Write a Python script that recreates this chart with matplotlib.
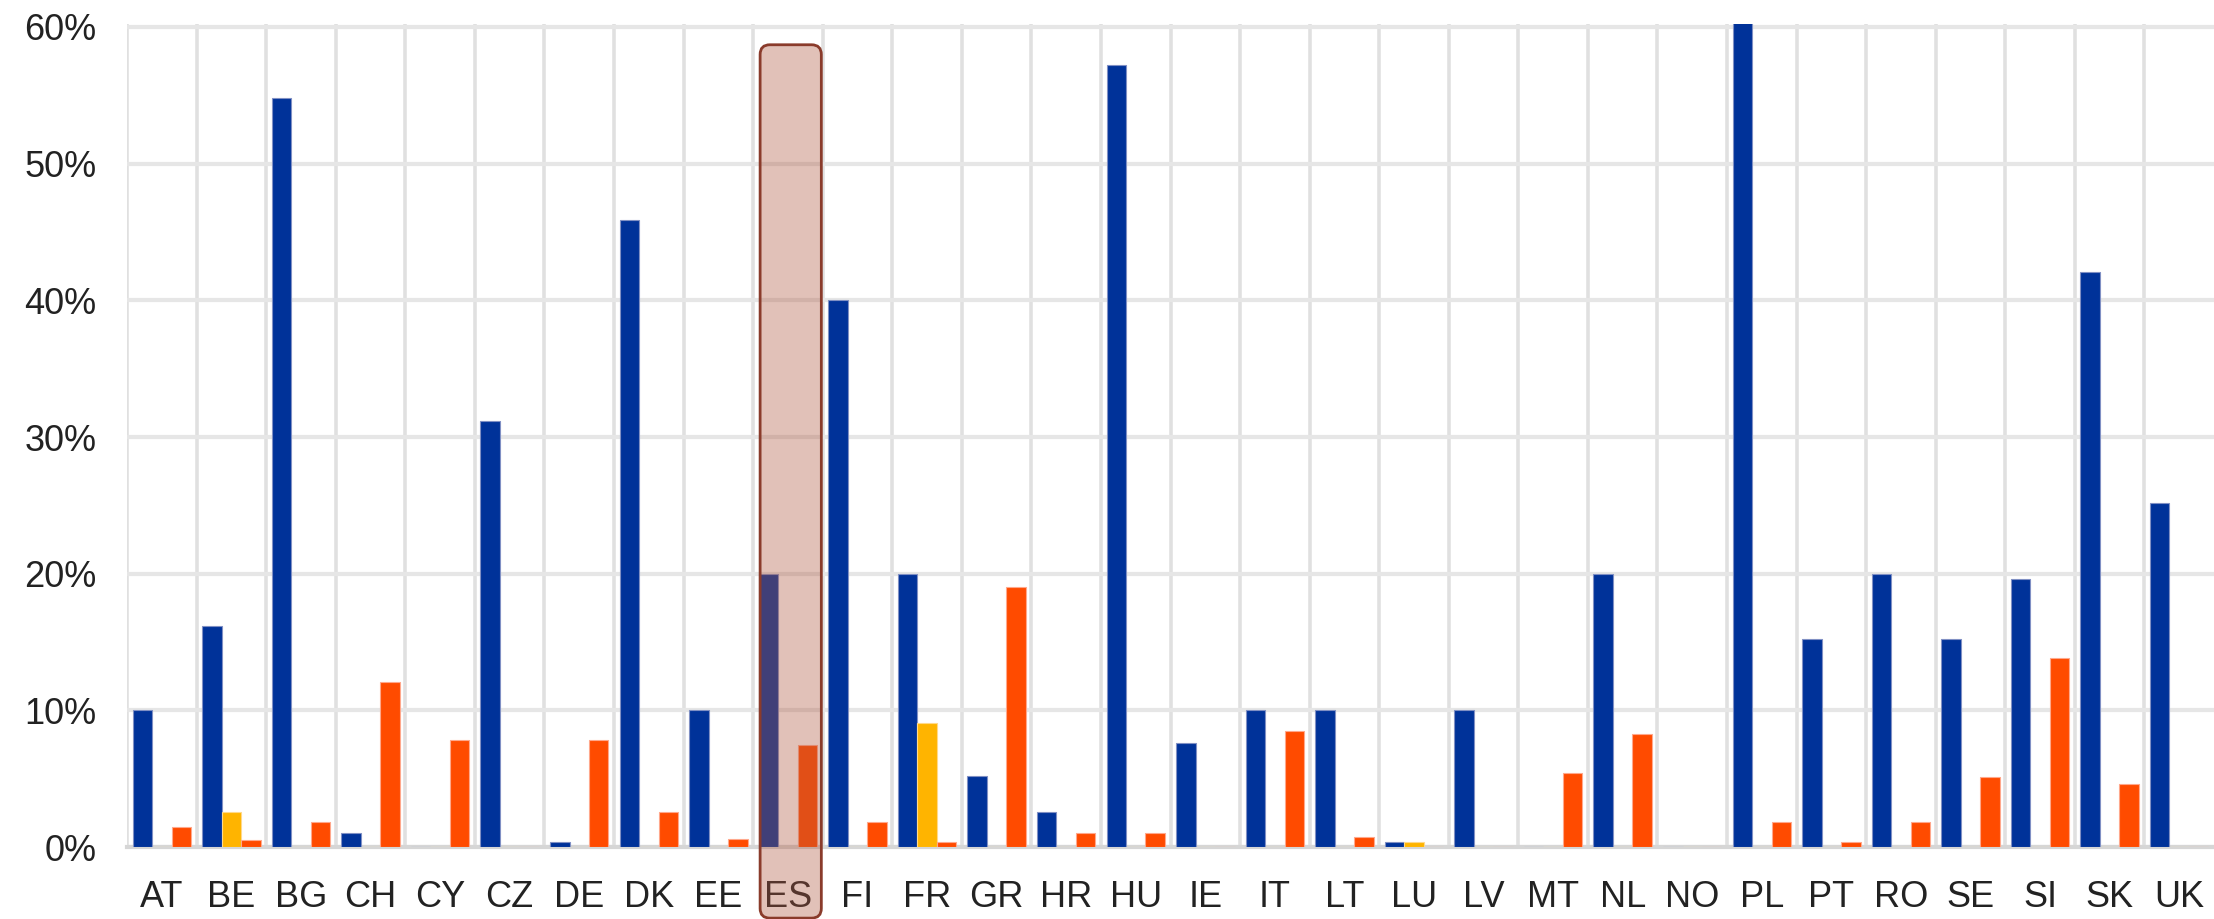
import numpy as np
import matplotlib
matplotlib.use("Agg")
import matplotlib.pyplot as plt
from matplotlib.patches import FancyBboxPatch

plt.rcParams['font.family'] = ['Liberation Sans', 'DejaVu Sans']

# datos (en %)
countries = ["AT", "BE", "BG", "CH", "CY", "CZ", "DE", "DK", "EE", "ES",
             "FI", "FR", "GR", "HR", "HU", "IE", "IT", "LT", "LU", "LV",
             "MT", "NL", "NO", "PL", "PT", "RO", "SE", "SI", "SK", "UK"]
blue = [10.0, 16.2, 54.8, 1.0, 0.0, 31.2, 0.4, 45.9, 10.0, 20.0,
        40.0, 20.0, 5.2, 2.6, 57.2, 7.6, 10.0, 10.0, 0.4, 10.0,
        0.0, 20.0, 0.0, 62.0, 15.2, 20.0, 15.2, 19.6, 42.1, 25.2]
yellow = [0.0, 2.6, 0.0, 0.0, 0.0, 0.0, 0.0, 0.0, 0.0, 0.0,
          0.0, 9.1, 0.0, 0.0, 0.0, 0.0, 0.0, 0.0, 0.4, 0.0,
          0.0, 0.0, 0.0, 0.0, 0.0, 0.0, 0.0, 0.0, 0.0, 0.0]
orange = [1.5, 0.5, 1.8, 12.1, 7.8, 0.0, 7.8, 2.6, 0.6, 7.5,
          1.8, 0.4, 19.0, 1.0, 1.0, 0.0, 8.5, 0.7, 0.0, 0.0,
          5.4, 8.3, 0.0, 1.8, 0.4, 1.8, 5.1, 13.8, 4.6, 0.0]
highlight = "ES"

BLUE = "#003299"
YELLOW = "#FFB400"
ORANGE = "#FF4B00"

fig = plt.figure(figsize=(22.14, 9.19), dpi=100)
ax = fig.add_axes([0.0574, 0.0783, 0.9426, 0.8953])

x = np.arange(len(countries))
w = 0.28
# borde claro, como el suavizado del original
ax.bar(x + 0.22, blue, width=w, color=BLUE, edgecolor="#8090c4",
       linewidth=0.8, zorder=3)
ax.bar(x + 0.50, yellow, width=w, color=YELLOW, edgecolor="#ffd98a",
       linewidth=0.8, zorder=3)
ax.bar(x + 0.78, orange, width=w, color=ORANGE, edgecolor="#ffa88c",
       linewidth=0.8, zorder=3)

ax.set_xlim(0, len(countries))
ax.set_ylim(0, 60.2)

ax.set_xticks(x + 0.5)
ax.set_xticklabels(countries)
ax.set_xticks(x, minor=True)
ax.set_yticks(np.arange(0, 61, 10))
ax.set_yticklabels([f"{v}%" for v in range(0, 61, 10)])

ax.tick_params(axis="both", which="both", length=0, labelsize=26,
               labelcolor="#222222")
ax.tick_params(axis="x", pad=24)
ax.tick_params(axis="y", pad=22)

ax.set_axisbelow(True)
ax.grid(True, axis="y", which="major", color="#e6e6e6", linewidth=3)
ax.grid(True, axis="x", which="minor", color="#e0e0e0", linewidth=2.6)
ax.grid(False, axis="x", which="major")

for s in ["top", "right", "left"]:
    ax.spines[s].set_visible(False)
ax.spines["bottom"].set_color("#d6d6d6")
ax.spines["bottom"].set_linewidth(3)

# recuadro de resaltado
i = countries.index(highlight)
box = FancyBboxPatch((i + 0.10, -5.2), 0.88, 63.9,
                     boxstyle="round,pad=0,rounding_size=0.14",
                     mutation_aspect=5.1,
                     facecolor=(175/255, 87/255, 64/255, 0.37),
                     edgecolor="#8a3b2b", linewidth=2,
                     clip_on=False, zorder=5, transform=ax.transData)
ax.add_patch(box)

fig.savefig("out.png", dpi=100)
